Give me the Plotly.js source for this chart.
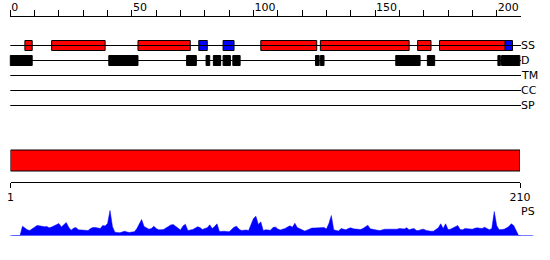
<!DOCTYPE html>
<html>
<head>
<meta charset="utf-8">
<script src="https://cdn.plot.ly/plotly-3.0.1.min.js"></script>
<style>html,body{margin:0;padding:0;background:#fff;}#chart{width:550px;height:260px;}</style>
</head>
<body>
<div id="chart"></div>
<script>
// ---------- data ----------
const seqLength = 210;
const trackNames = ['SS', 'D', 'TM', 'CC', 'SP'];
// secondary structure elements (H = helix, E = strand), residue coordinates
const ssType  = ['H', 'H', 'H',  'E',  'E',  'H', 'H',   'H',   'H',   'E'];
const ssStart = [6,   17,  52.5, 77.5, 87.5, 103, 127.5, 167.5, 176.5, 203.5];
const ssEnd   = [9,   39,  74,   81,   92,   126, 164,   173,   203.5, 206.5];
// disorder segments
const dStart = [0, 40.5, 72.5, 80.5, 83.5, 87.5, 91.5, 125.5, 127.5, 158.5, 171.5, 200.5, 202];
const dEnd   = [9, 52.5, 76.5, 82,   86.5, 90.5, 94.5, 127,   129,   168.5, 174.5, 201.5, 209.5];
// domain bar
const domainStart = [1];
const domainEnd = [210];
// PS profile, residue 1..210
const psValues = [
  0,0,0,0,9.3,7.5,5.7,5,6.5,8.5,
  10,9.7,9,8.8,9,7.7,8.5,9.5,11,12,
  8.5,11,13,8.3,5.3,7.3,8,5.7,5.7,5.7,
  5.3,5,7,8,8,7.5,7,10,9.5,12,
  25,9,3.3,3,2.7,3.5,4.3,3.5,3,3.5,
  3.7,6.7,12,16,9,8,6.3,7,9.3,7,
  5.7,5.8,6,7.5,9,10.5,11,9,7,5.5,
  9.5,11.3,5,5.5,6,7.3,8.7,8,6,7,
  7.7,10.7,7,9,11.7,4,4.5,4.3,4,3.7,
  6,8.3,9.3,6.5,5,5.5,5.5,5,11,17,
  19.3,11,13.7,5,5.7,5.5,5.3,8,8.5,6.5,
  5.5,6.3,7,8.5,9.7,8.3,12.3,8,6.7,5,
  4.5,5.3,6.5,7.5,7.5,7.7,7.5,8,8,6.5,
  12,20,5.7,5,4.5,7,6.5,5.7,7,7.7,
  6.7,6.7,6,6,7,8.5,10.3,6.7,6,5.7,
  5.3,5,5.8,6.3,6.3,6.3,6,5.7,6.3,7,
  6.5,6.5,7.7,5.7,6.5,7,5,5,6,6.3,
  5,4.3,4.3,4.3,6,7.7,11.7,7,11.7,6,
  6.3,7.7,8.5,10,6,5.7,7,6.7,6.5,6.3,
  7.2,7.7,7.3,7,8.3,7,5.7,7,24,10,
  5.7,6,6.2,7.5,9,11.7,10,5,0,0
];
const topTickVals = [0,10,20,30,40,50,60,70,80,90,100,110,120,130,140,150,160,170,180,190,200];
const topTickText = topTickVals.map(v => v % 50 === 0 ? String(v) : '');
const bottomTickVals = [1, 210];

// ---------- layout constants ----------
const W = 550, H = 260;
const px0 = 10.3, px210 = 521;           // pixel positions of residue 0 and 210
const pxPerRes = (px210 - px0) / 210;
const xMin = -px0 / pxPerRes, xMax = 210 + (W - px210) / pxPerRes;
const trackY = {SS: 45.5, D: 60.5, TM: 75.5, CC: 90.5, SP: 105.5};
const boxH = 10;
const domainY = 160.5, domainH = 21;
const psBase = 235.5, psHeight = 26;
const psExtent = 215;
const FONT = {family: 'DejaVu Sans, Verdana, sans-serif', size: 11, color: '#000'};
const RED = '#ff0000', BLUE = '#0000ff', BLACK = '#000000';

const traces = [];
// track lines
['SS', 'D', 'TM', 'CC', 'SP'].forEach(name => {
  traces.push({type: 'scatter', mode: 'lines', x: [0, seqLength], y: [trackY[name], trackY[name]],
    line: {color: BLACK, width: 1}, hoverinfo: 'skip', showlegend: false});
});
// SS boxes
function ssTrace(type, color) {
  const idx = ssType.map((t, i) => t === type ? i : -1).filter(i => i >= 0);
  return {type: 'bar', orientation: 'h',
    y: idx.map(() => trackY.SS), base: idx.map(i => ssStart[i]), x: idx.map(i => ssEnd[i] - ssStart[i]),
    width: boxH, marker: {color: color, line: {color: BLACK, width: 1}}, hoverinfo: 'skip', showlegend: false};
}
traces.push(ssTrace('H', RED));
traces.push(ssTrace('E', BLUE));
// disorder boxes
traces.push({type: 'bar', orientation: 'h',
  y: dStart.map(() => trackY.D), base: dStart, x: dStart.map((s, i) => dEnd[i] - s),
  width: boxH, marker: {color: BLACK, line: {color: BLACK, width: 1}}, hoverinfo: 'skip', showlegend: false});
// domain bar
traces.push({type: 'bar', orientation: 'h', xaxis: 'x3', yaxis: 'y',
  y: domainStart.map(() => domainY), base: domainStart, x: domainStart.map((s, i) => domainEnd[i] - s),
  width: domainH, marker: {color: RED, line: {color: BLACK, width: 1}}, hoverinfo: 'skip', showlegend: false});
// PS profile
traces.push({type: 'scatter', mode: 'lines', xaxis: 'x', yaxis: 'y2',
  x: psValues.map((v, i) => i + 1), y: psValues, fill: 'tozeroy',
  fillcolor: BLUE, line: {color: BLUE, width: 0.5}, hoverinfo: 'skip', showlegend: false, cliponaxis: false});
// PS baseline
traces.push({type: 'scatter', mode: 'lines', xaxis: 'x', yaxis: 'y2',
  x: [0, psExtent], y: [0, 0], line: {color: BLUE, width: 1}, hoverinfo: 'skip', showlegend: false, cliponaxis: false});
// invisible trace so the top axis renders
traces.push({type: 'scatter', mode: 'markers', xaxis: 'x2', yaxis: 'y', x: [0], y: [-100],
  marker: {opacity: 0}, hoverinfo: 'skip', showlegend: false});

const annotations = trackNames.map(name => ({
  x: seqLength, y: trackY[name], xref: 'x', yref: 'y', text: name, showarrow: false,
  xanchor: 'left', yanchor: 'middle', xshift: -2, font: FONT
}));
annotations.push({x: seqLength, y: psBase - 24, xref: 'x', yref: 'y', text: 'PS', showarrow: false,
  xanchor: 'left', yanchor: 'middle', xshift: -2, font: FONT});

const layout = {
  width: W, height: H,
  margin: {l: 0, r: 0, t: 0, b: 0, pad: 0},
  paper_bgcolor: '#fff', plot_bgcolor: 'rgba(0,0,0,0)',
  barmode: 'overlay', showlegend: false,
  font: FONT,
  xaxis: {domain: [0, 1], range: [xMin, xMax], visible: false, fixedrange: true},
  yaxis: {domain: [0, 1], range: [H, 0], visible: false, fixedrange: true},
  xaxis2: {domain: [px0 / W, px210 / W], range: [0, 210], anchor: 'free',
    position: (H - 15.5) / H, side: 'top', showline: true, linecolor: BLACK, linewidth: 1,
    ticks: 'outside', ticklen: 6, tickcolor: BLACK, tickwidth: 1,
    tickmode: 'array', tickvals: topTickVals, ticktext: topTickText,
    ticklabelposition: 'outside right', tickfont: FONT, showgrid: false, zeroline: false, fixedrange: true},
  xaxis3: {domain: [10.5 / W, 520 / W], range: [1, 210], anchor: 'free',
    position: (H - 182) / H, side: 'bottom', showline: true, linecolor: BLACK, linewidth: 1,
    ticks: 'outside', ticklen: 5, tickcolor: BLACK, tickwidth: 1,
    tickmode: 'array', tickvals: bottomTickVals, tickfont: FONT, showgrid: false, zeroline: false, fixedrange: true},
  yaxis2: {domain: [(H - psBase) / H, (H - psBase + psHeight) / H], range: [0, psHeight],
    anchor: 'x', visible: false, fixedrange: true},
  annotations: annotations
};

Plotly.newPlot('chart', traces, layout, {staticPlot: true, displayModeBar: false});
</script>
</body>
</html>
